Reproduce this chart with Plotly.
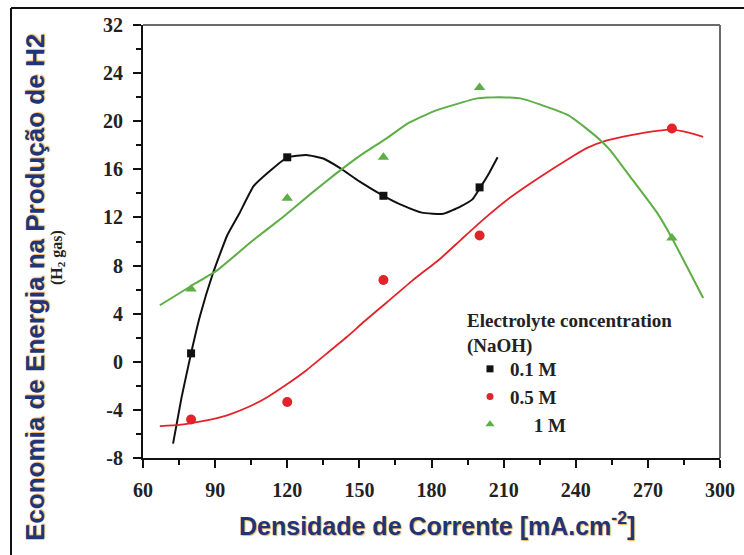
import plotly.graph_objects as go

# ---------------- data ----------------
# measured points
pts_x_01 = [80, 120, 160, 200]
pts_y_01 = [0.7, 17.0, 13.8, 14.5]
pts_x_05 = [80, 120, 160, 200, 280]
pts_y_05 = [-4.8, -3.35, 6.8, 10.5, 19.4]
pts_x_1 = [80, 120, 160, 200, 280]
pts_y_1 = [6.05, 13.6, 17.0, 22.8, 10.3]

# fitted curves
fit_x_01 = [72.5, 76, 80, 83.7, 89, 95, 100, 106, 113, 120, 128, 135, 142, 150,
            160, 168, 176, 185, 192, 197, 200, 204, 207.5]
fit_y_01 = [-6.8, -3.0, 0.7, 3.8, 7.3, 10.5, 12.3, 14.6, 15.9, 17.0, 17.2, 16.9,
            16.1, 15.0, 13.8, 13.0, 12.4, 12.3, 12.9, 13.5, 14.4, 15.7, 17.0]
fit_x_05 = [67, 75, 80, 87, 95, 104.5, 112, 120, 128, 136.5, 145, 152, 161.5, 172,
            183.5, 192, 201.4, 213, 225, 237.6, 245, 253, 263, 273.8, 280, 287, 293]
fit_y_05 = [-5.35, -5.25, -5.1, -4.85, -4.45, -3.7, -2.9, -1.85, -0.7, 0.7, 2.1,
            3.35, 4.95, 6.75, 8.55, 10.1, 11.8, 13.7, 15.35, 16.95, 17.8, 18.4, 18.85,
            19.2, 19.3, 19.05, 18.7]
fit_x_1 = [67, 80, 90.8, 105.8, 118, 130, 140, 150, 161.5, 170, 180.6, 190, 199,
           208, 217, 225, 236.8, 245, 250.9, 254.3, 262.6, 273.8, 280, 286, 293]
fit_y_1 = [4.7, 6.3, 7.6, 10.1, 12.0, 14.0, 15.6, 17.1, 18.6, 19.8, 20.8, 21.4,
           21.9, 22.0, 21.9, 21.4, 20.5, 19.3, 18.3, 17.6, 15.4, 12.4, 10.3, 8.0, 5.3]

series_names = ["0.1 M", "0.5 M", "\u2007\u2007 1 M"]
legend_title = "Electrolyte concentration<br>(NaOH)"
y_tickvals = [-8, -4, 0, 4, 8, 12, 16, 20, 24, 28]
y_ticktext = ["-8", "-4", "0", "4", "8", "12", "16", "20", "24", "32"]
x_tickvals = [60, 90, 120, 150, 180, 210, 240, 270, 300]

BLACK = "#111111"
RED = "#e3232a"
GREEN = "#5cae45"
BLUE = "#1f3578"

fig = go.Figure()

for fx, fy, col, w in [(fit_x_01, fit_y_01, BLACK, 2),
                       (fit_x_05, fit_y_05, RED, 1.8),
                       (fit_x_1, fit_y_1, GREEN, 2)]:
    fig.add_trace(go.Scatter(x=fx, y=fy, mode="lines", showlegend=False,
                             line=dict(color=col, width=w, shape="spline", smoothing=0.4),
                             hoverinfo="skip"))

styles = [(BLACK, "square", 8, 7), (RED, "circle", 10, 7), (GREEN, "triangle-up", 10, 8)]
for (px, py), (col, sym, sz, lsz), nm in zip(
        [(pts_x_01, pts_y_01), (pts_x_05, pts_y_05), (pts_x_1, pts_y_1)], styles, series_names):
    fig.add_trace(go.Scatter(x=px, y=py, mode="markers", name=nm, showlegend=False,
                             marker=dict(color=col, symbol=sym, size=sz)))
    # legend entry with the smaller legend symbol
    fig.add_trace(go.Scatter(x=[None], y=[None], mode="markers", name=nm,
                             marker=dict(color=col, symbol=sym, size=lsz)))

tickfont = dict(family="Liberation Serif", size=20, color="#222222", weight="bold")

fig.update_xaxes(range=[60, 300], tickvals=x_tickvals, showgrid=False, zeroline=False,
                 showline=True, linecolor="#111", linewidth=2, ticks="outside",
                 ticklen=8, tickwidth=2, tickcolor="#111", tickfont=tickfont,
                 ticklabelstandoff=5,
                 minor=dict(tickmode="linear", tick0=75, dtick=30, ticks="outside",
                            ticklen=5, tickwidth=1.5, tickcolor="#111"))
fig.update_yaxes(range=[-8, 28], tickvals=y_tickvals, ticktext=y_ticktext, showgrid=False,
                 zeroline=False, showline=True, linecolor="#111", linewidth=2,
                 ticks="outside", ticklen=8, tickwidth=2, tickcolor="#111",
                 tickfont=tickfont, ticklabelstandoff=6,
                 minor=dict(tickmode="linear", tick0=-6, dtick=4, ticks="outside",
                            ticklen=5, tickwidth=1.5, tickcolor="#111"))

L, R, T, B = 143, 24, 25, 97
W, H = 744, 555
pw, ph = W - L - R, H - T - B


def px2x(p):
    return (p - L) / pw


def px2y(p):
    return (H - B - p) / ph


shapes = [
    # plot frame top & right (grey)
    dict(type="line", xref="paper", yref="paper", x0=0, x1=1, y0=1, y1=1,
         line=dict(color="#6a6a6a", width=2)),
    dict(type="line", xref="paper", yref="paper", x0=1, x1=1, y0=0, y1=1,
         line=dict(color="#6a6a6a", width=2)),
    # outer frame
    dict(type="line", xref="paper", yref="paper", x0=px2x(11), x1=px2x(11),
         y0=px2y(560), y1=px2y(8), line=dict(color="#111", width=2)),
    dict(type="line", xref="paper", yref="paper", x0=px2x(11), x1=px2x(760),
         y0=px2y(8), y1=px2y(8), line=dict(color="#111", width=2)),
]

shadow = "1px 1px 1px rgba(235,150,40,0.75)"
serif_bold = dict(family="Liberation Serif", size=19, color="#222", weight="bold")
annotations = [
    dict(text="Economia de Energia na Produção de H2", xref="paper", yref="paper",
         x=px2x(35), y=px2y(288), textangle=-90, showarrow=False,
         xanchor="center", yanchor="middle",
         font=dict(family="Liberation Sans", size=26, color=BLUE, shadow=shadow,
                   weight="bold")),
    dict(text="(H<sub>2</sub> gas)", xref="paper", yref="paper",
         x=px2x(57), y=px2y(258), textangle=-90, showarrow=False,
         xanchor="center", yanchor="middle",
         font=dict(family="Liberation Serif", size=16, color="#222", weight="bold")),
    dict(text="Densidade de Corrente [mA.cm<sup>-2</sup>]", xref="paper", yref="paper",
         x=px2x(437), y=px2y(524), showarrow=False, xanchor="center", yanchor="middle",
         font=dict(family="Liberation Sans", size=25, color=BLUE, shadow=shadow,
                   weight="bold")),
    dict(text=legend_title, xref="paper", yref="paper", align="left",
         x=px2x(465), y=px2y(308), showarrow=False, xanchor="left", yanchor="top",
         font=serif_bold),
]

fig.update_layout(
    width=W, height=H, margin=dict(l=L, r=R, t=T, b=B, autoexpand=False),
    paper_bgcolor="white", plot_bgcolor="white",
    shapes=shapes, annotations=annotations,
    legend=dict(x=px2x(470), y=px2y(350), xanchor="left", yanchor="top",
                bgcolor="rgba(0,0,0,0)", font=serif_bold, itemsizing="trace",
                tracegroupgap=0),
)

fig.write_html("out.html", config={"displayModeBar": False},
               post_script="document.body.style.margin='0';document.body.style.overflow='hidden';")
